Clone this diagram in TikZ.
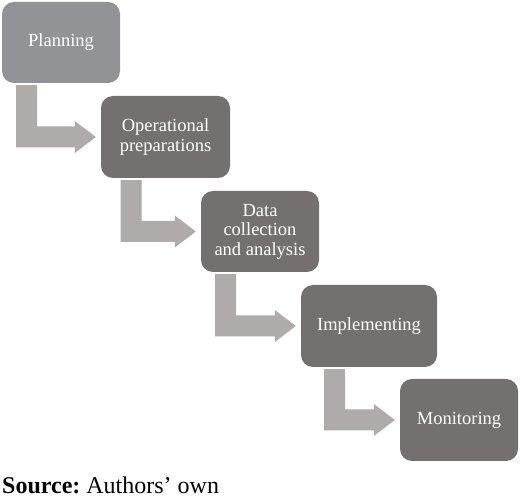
\documentclass[tikz,border=0pt]{standalone}
\usepackage{fontspec}
\setmainfont{Liberation Serif}
\usetikzlibrary{calc}
\frenchspacing
\definecolor{boxlight}{RGB}{145,147,150}
\definecolor{boxdark}{RGB}{117,112,112}
\definecolor{arrowgray}{RGB}{174,171,170}
\tikzset{
  stepbox/.style={draw=none, fill=boxdark, rounded corners=12pt, text=white,
    align=center, inner sep=2pt, minimum height=82pt,
    font=\fontsize{18.5}{19.5}\selectfont},
  firstbox/.style={stepbox, fill=boxlight},
  bentfill/.style={fill=arrowgray, draw=none},
}
\newcommand\bentarrow[2]{%
  \fill[bentfill] let \p1=(#1.south), \p2=(#2.west) in
    (\x1-45pt,\y1-2pt) -- (\x1-24pt,\y1-2pt) -- (\x1-24pt,\y2+10.5pt)
    -- (\x2-26pt,\y2+10.5pt) -- (\x2-26pt,\y2+16pt) -- (\x2-5pt,\y2)
    -- (\x2-26pt,\y2-16pt) -- (\x2-26pt,\y2-10.5pt) -- (\x1-45pt,\y2-10.5pt) -- cycle;}
\begin{document}
\begin{tikzpicture}[x=1pt,y=1pt]
\useasboundingbox (0,0) rectangle (520,-502);
\fill[white] (0,0) rectangle (520,-502);
\node[firstbox, minimum width=118pt, minimum height=81pt] (plan) at (61,-42.5) {Planning};
\node[stepbox, minimum width=129pt] (oper) at (165.5,-137) {Operational\\preparations};
\node[stepbox, minimum width=118pt, minimum height=81pt] (data) at (260,-231.5) {Data\\collection\\and analysis};
\node[stepbox, minimum width=136pt] (impl) at (369,-326) {Implementing};
\node[stepbox, minimum width=118pt] (moni) at (459,-420) {Monitoring};
\bentarrow{plan}{oper}
\bentarrow{oper}{data}
\bentarrow{data}{impl}
\bentarrow{impl}{moni}
\node[anchor=base west, inner sep=0pt, font=\fontsize{24}{28}\selectfont] (src) at (2,-494) {\textbf{Source:} Authors’ own};
\end{tikzpicture}
\end{document}
